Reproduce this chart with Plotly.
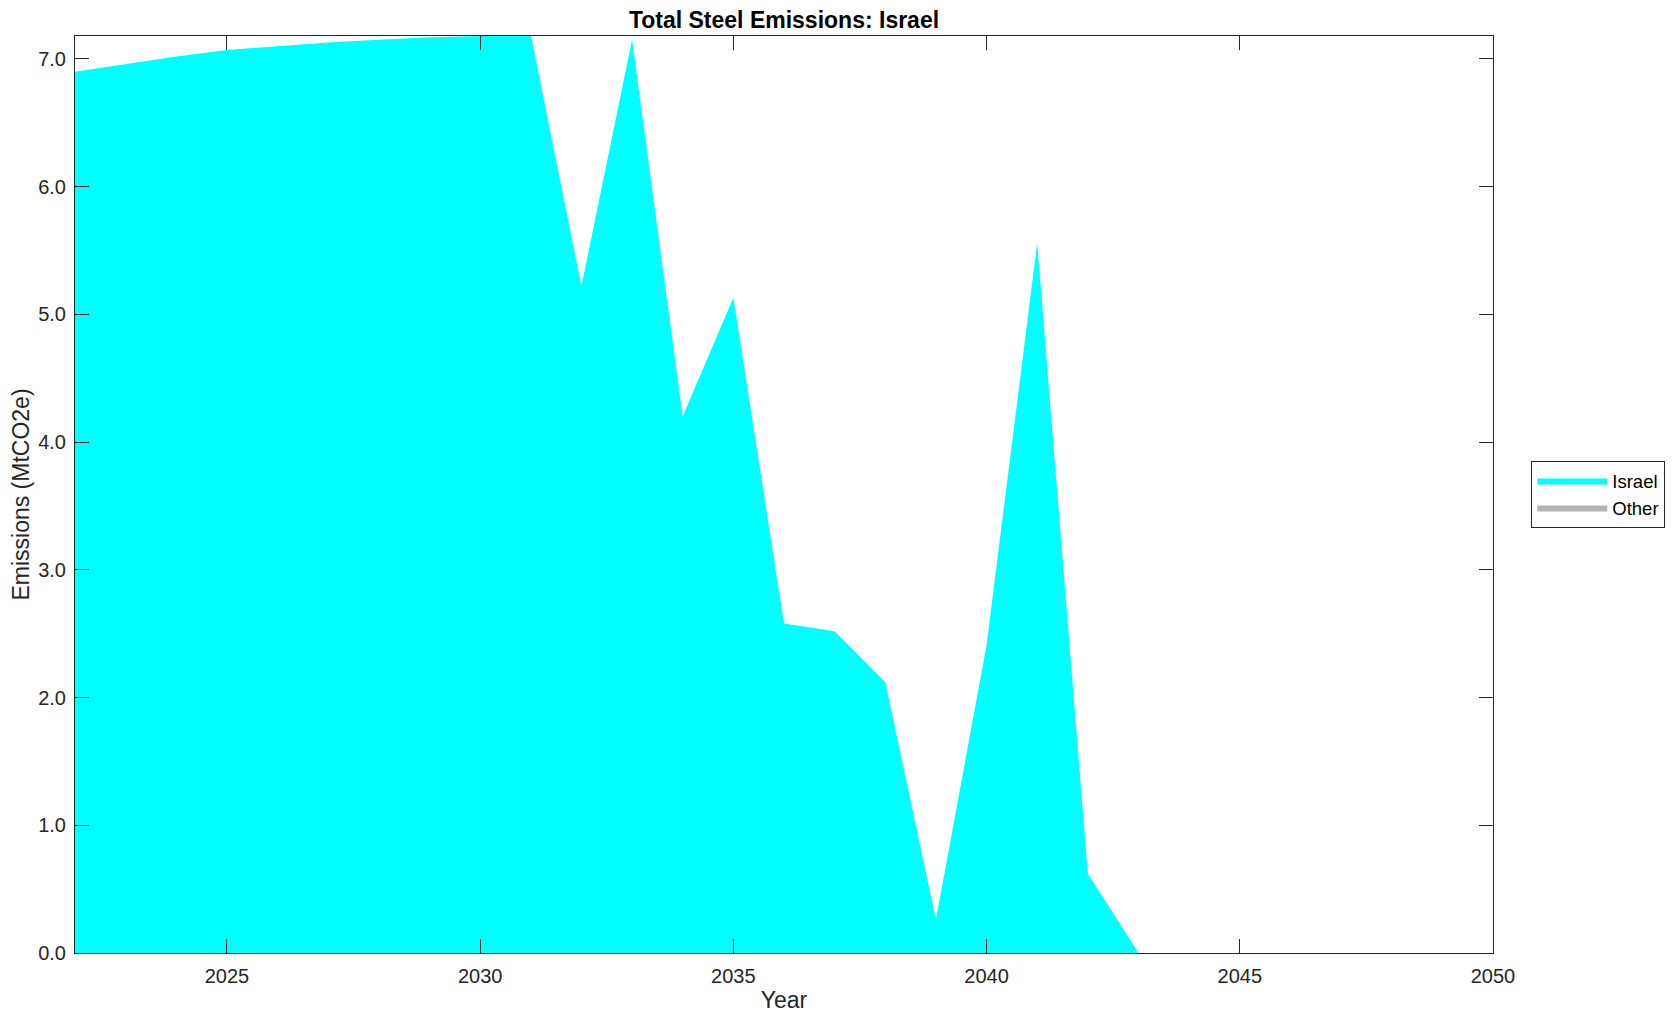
import plotly.graph_objects as go

years = list(range(2022, 2051))
israel = [6.90, 6.96, 7.02, 7.07, 7.10, 7.13, 7.15, 7.17, 7.18, 7.19,
          5.22, 7.15, 4.20, 5.13, 2.58, 2.52, 2.12, 0.26, 2.41, 5.56,
          0.62, 0.0, 0.0, 0.0, 0.0, 0.0, 0.0, 0.0, 0.0]
other = [0.0] * len(years)

y_ticks = [0, 1, 2, 3, 4, 5, 6, 7]
x_ticks = [2025, 2030, 2035, 2040, 2045, 2050]

FONT = "Liberation Sans, Arial, Helvetica, sans-serif"
AX = "#262626"

# page body has an 8px margin; size the figure so the plot lands where it should
W, H = 1661, 1005
L, T, R, B = 67, 28, 176, 60

fig = go.Figure()
fig.add_trace(go.Scatter(
    x=years, y=israel, name="Israel", mode="lines", stackgroup="one",
    line=dict(width=0, color="#00FFFF"), fillcolor="#00FFFF",
))
fig.add_trace(go.Scatter(
    x=years, y=other, name="Other", mode="lines", stackgroup="one",
    line=dict(width=0, color="#B3B3B3"), fillcolor="#B3B3B3",
))

axis_common = dict(
    showgrid=False, zeroline=False, showline=True, linecolor=AX, linewidth=1,
    mirror="ticks", ticks="inside", ticklen=14, tickcolor=AX, tickwidth=1,
    tickfont=dict(family=FONT, size=20, color=AX), automargin=False,
)

fig.update_layout(
    width=W, height=H,
    margin=dict(l=L, r=R, t=T, b=B, autoexpand=False),
    paper_bgcolor="white", plot_bgcolor="white",
    font=dict(family=FONT, color=AX),
    title=dict(text="<b>Total Steel Emissions: Israel</b>",
               x=(L + (W - R)) / 2 / W, xanchor="center",
               y=1 - 12 / H, yanchor="middle",
               font=dict(family=FONT, size=23, color="black")),
    xaxis=dict(range=[2022, 2050], tickvals=x_ticks, ticklabelstandoff=5,
               title=dict(text="Year", font=dict(family=FONT, size=23, color=AX), standoff=8),
               **axis_common),
    yaxis=dict(range=[0, 7.18], tickvals=y_ticks, tickformat=".1f", ticklabelstandoff=4,
               title=dict(text="Emissions (MtCO2e)", font=dict(family=FONT, size=23, color=AX), standoff=5),
               **axis_common),
    legend=dict(x=1.027, xanchor="left", y=0.5, yanchor="middle",
                bordercolor=AX, borderwidth=1, bgcolor="white",
                font=dict(family=FONT, size=18.5, color="black"),
                traceorder="normal", itemwidth=70),
    showlegend=True,
)

fig.write_html("out.html")
